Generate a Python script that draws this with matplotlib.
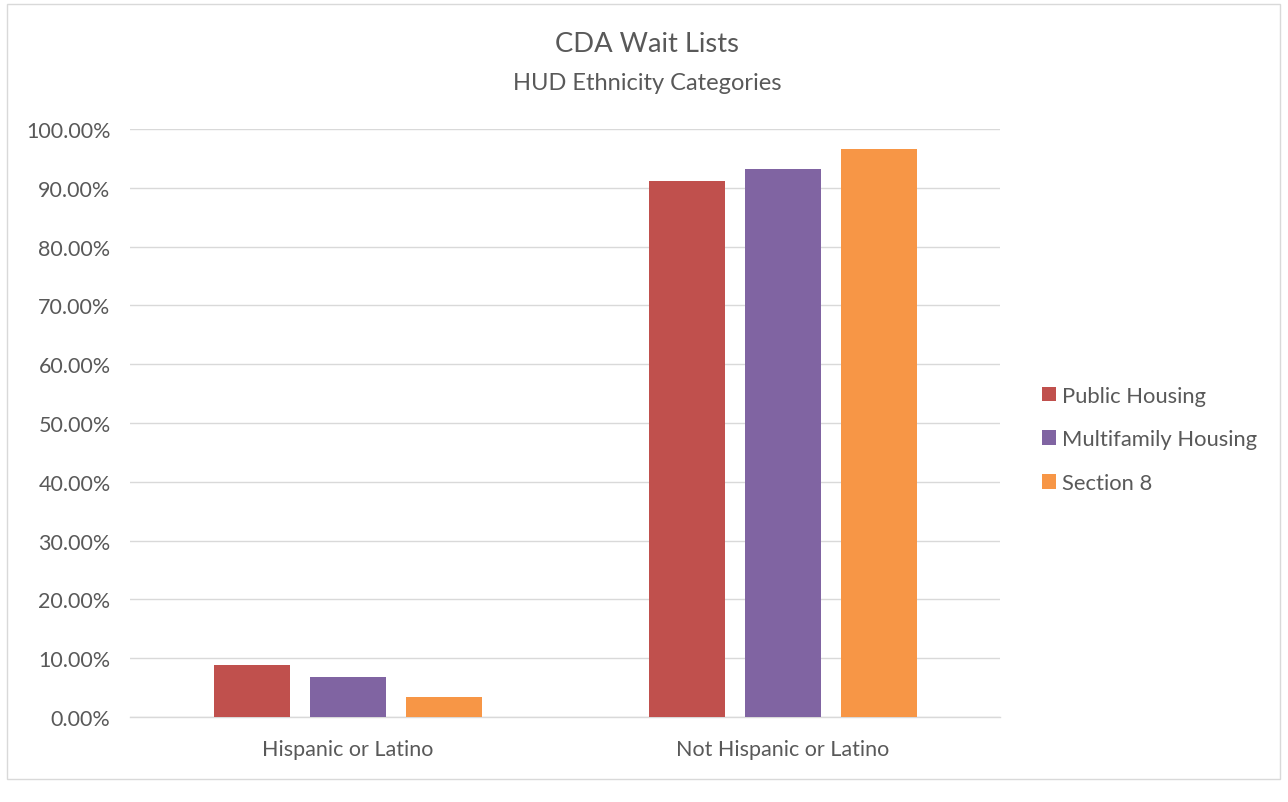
import matplotlib
matplotlib.use("Agg")
import matplotlib.pyplot as plt
from matplotlib.patches import Rectangle
from matplotlib.ticker import FuncFormatter

categories = ["Hispanic or Latino", "Not Hispanic or Latino"]
series_names = ["Public Housing", "Multifamily Housing", "Section 8"]
public_housing = [8.84, 91.16]
multifamily_housing = [6.8, 93.2]
section_8 = [3.33, 96.67]
colors = ["#C0504D", "#8064A2", "#F79646"]

plt.rcParams['font.family'] = ['Lato', 'DejaVu Sans']
text_color = "#595959"

W, H = 1288, 803
fig = plt.figure(figsize=(W / 100, H / 100), dpi=100)

# chart border
fig.patches.append(Rectangle((7 / W, 1 - 780 / H), (1280 - 7) / W, (780 - 5) / H,
                             transform=fig.transFigure, fill=False,
                             edgecolor="#d9d9d9", linewidth=1.0))

ax = fig.add_axes([130 / W, 1 - 718 / H, (1000 - 130) / W, (718 - 130) / H])

values = [public_housing, multifamily_housing, section_8]
bw = 76 / 435
step = 96 / 435
x = list(range(len(categories)))
for i, (name, vals, c) in enumerate(zip(series_names, values, colors)):
    pos = [xi + (i - 1) * step for xi in x]
    ax.bar(pos, vals, width=bw, color=c, label=name, zorder=3)

ax.set_xlim(-0.5, 1.5)
ax.set_ylim(0, 100)
ax.set_yticks(range(0, 101, 10))
ax.yaxis.set_major_formatter(FuncFormatter(lambda v, p: f"{v:.2f}%"))
ax.set_xticks(x)
ax.set_xticklabels(categories)
ax.grid(axis='y', color="#d9d9d9", linewidth=1.0, zorder=0)
for s in ["top", "right", "left"]:
    ax.spines[s].set_visible(False)
ax.spines["bottom"].set_color("#d9d9d9")
ax.spines["bottom"].set_linewidth(1.0)
ax.tick_params(axis='both', length=0, labelsize=15.5, colors=text_color)
ax.tick_params(axis='y', pad=14)
ax.tick_params(axis='x', pad=16)

fig.text(647 / W, 1 - 45 / H, "CDA Wait Lists", ha='center', va='center',
         fontsize=19.7, color=text_color)
fig.text(647 / W, 1 - 83 / H, "HUD Ethnicity Categories", ha='center', va='center',
         fontsize=17, color=text_color)

leg = fig.legend(loc='upper left', bbox_to_anchor=(1022 / W, 1 - 367 / H),
                 frameon=False, fontsize=15.8, handlelength=0.65, handleheight=0.65,
                 handletextpad=0.25, labelspacing=1.08, labelcolor=text_color)

fig.savefig("out.png", dpi=100)
